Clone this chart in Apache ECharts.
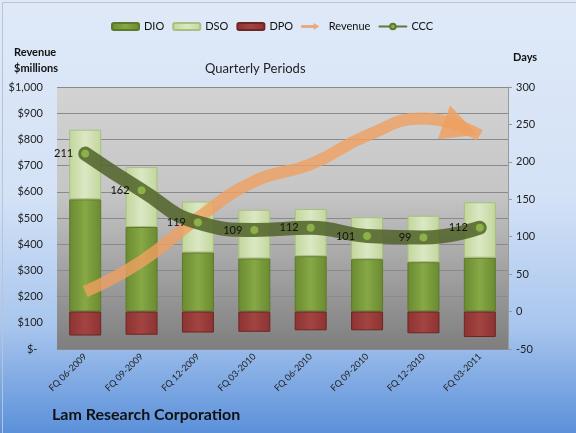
<!DOCTYPE html>
<html>
<head>
<meta charset="utf-8">
<script src="https://cdn.jsdelivr.net/npm/echarts@6/dist/echarts.min.js"></script>
<style>
html,body{margin:0;padding:0;}
#chart{width:576px;height:433px;}
</style>
</head>
<body>
<div id="chart"></div>
<script>
// periods and values (days for DIO/DSO/DPO/CCC, $ millions for revenue)
var periods = ["FQ 06-2009","FQ 09-2009","FQ 12-2009","FQ 03-2010","FQ 06-2010","FQ 09-2010","FQ 12-2010","FQ 03-2011"];
var dio = [150, 113, 79, 71, 74, 70, 66, 72];
var dso = [93, 80, 68, 65, 63, 56, 62, 74];
var dpo = [-32, -31, -28, -27, -25, -25, -29, -34];
var ccc = [211, 162, 119, 109, 112, 101, 99, 112];
var revenue = [219, 335, 500, 640, 705, 815, 880, 815];

var FONT = "Lato, 'Open Sans', sans-serif";

function barGrad(edge, mid){
	return {type:'linear',x:0,y:0,x2:1,y2:0,colorStops:[
		{offset:0,color:edge},{offset:0.5,color:mid},{offset:1,color:edge}]};
}

// last point carries the arrow head
var revData = revenue.map(function(v,i){
	if(i==revenue.length-1){
		return {value:v, symbol:'path://M0,0 L1,0.5 L0,1 Z', symbolKeepAspect:false,
			symbolSize:[36,36], symbolRotate:-20, symbolOffset:[-19,-7]};
	}
	return v;
});

var myChart = echarts.init(document.getElementById('chart'));
var option = {
	backgroundColor:{type:'linear',x:0,y:0,x2:0,y2:1,colorStops:[
		{offset:0,color:'#dfe9f8'},{offset:0.45,color:'#d4e2f6'},{offset:0.75,color:'#a9c6ee'},{offset:1,color:'#5b90da'}]},
	textStyle:{fontFamily:FONT},
	graphic:[
		{type:'rect',left:0,top:0,shape:{width:575,height:432},style:{fill:'none',stroke:'#b8c4d4',lineWidth:1}},
		{type:'text',left:14,top:44,style:{text:'Revenue\n$millions',font:'bold 11px '+FONT,fill:'#111',lineHeight:16}},
		{type:'text',left:513,top:52,style:{text:'Days',font:'bold 11px '+FONT,fill:'#111'}},
		{type:'text',left:205,top:62,style:{text:'Quarterly Periods',font:'13px '+FONT,fill:'#222'}},
		{type:'text',left:52,top:407,style:{text:'Lam Research Corporation',font:'bold 16px '+FONT,fill:'#111'}}
	],
	legend:{
		left:106, top:16, itemWidth:27, itemHeight:7, itemGap:8,
		textStyle:{fontSize:11,color:'#111',fontFamily:FONT},
		data:[
			{name:'DIO'},{name:'DSO'},{name:'DPO'},
			{name:'Revenue',icon:'path://M0,3 L18,3 L18,0 L26,5 L18,10 L18,7 L0,7 Z',itemStyle:{color:'#e8a070'}},
			{name:'CCC'}
		]
	},
	grid:{left:57,right:68,top:87,bottom:84,show:true,borderWidth:0,
		backgroundColor:{type:'linear',x:0,y:0,x2:0,y2:1,colorStops:[
			{offset:0,color:'#d3d3d3'},{offset:0.4,color:'#c6c6c6'},{offset:1,color:'#7e7e7e'}]}},
	xAxis:{
		type:'category', data:periods,
		axisLine:{show:false}, axisTick:{show:false},
		axisLabel:{rotate:45, fontSize:9, color:'#222', margin:6, fontFamily:FONT, interval:0}
	},
	yAxis:[
		{type:'value', min:0, max:1000, interval:100,
			axisLine:{show:false}, axisTick:{show:false},
			splitLine:{lineStyle:{color:'#8a8a8a',width:1}},
			axisLabel:{fontSize:11,color:'#222',margin:14,fontFamily:FONT,
				formatter:function(v){return v===0?'$-  ':'$'+v.toLocaleString('en-US');}}
		},
		{type:'value', min:-50, max:300, interval:50, position:'right',
			axisLine:{show:true,lineStyle:{color:'#9a9a9a'}},
			axisTick:{show:true,length:4,lineStyle:{color:'#9a9a9a'}},
			splitLine:{show:false},
			axisLabel:{fontSize:11,color:'#222',margin:8,fontFamily:FONT}
		}
	],
	series:[
		{name:'DIO', type:'bar', stack:'days', yAxisIndex:1, data:dio, barWidth:32,
			itemStyle:{color:barGrad('#6a8a30','#86a845'),borderColor:'#5d7a2a',borderWidth:1}},
		{name:'DSO', type:'bar', stack:'days', yAxisIndex:1, data:dso,
			itemStyle:{color:barGrad('#c2d69b','#dbe8c4'),borderColor:'#a9bf80',borderWidth:1}},
		{name:'DPO', type:'bar', stack:'days', yAxisIndex:1, data:dpo,
			itemStyle:{color:barGrad('#8c3331','#a24442'),borderColor:'#6e2624',borderWidth:1}},
		{name:'Revenue', type:'line', yAxisIndex:0, data:revData, smooth:0.5,
			symbol:'none', showSymbol:true, showAllSymbol:true, z:3,
			lineStyle:{color:'#f0a060',width:12,opacity:0.8,cap:'butt'},
			itemStyle:{color:'#eea060',opacity:0.85}},
		{name:'CCC', type:'line', yAxisIndex:1, data:ccc, smooth:0.5, z:4,
			symbol:'circle', symbolSize:9,
			lineStyle:{color:'#4f6228',width:14,opacity:0.85,cap:'round'},
			itemStyle:{color:'#8db04a',borderColor:'#5f7a2c',borderWidth:1},
			label:{show:true,position:'left',distance:7,fontSize:11,color:'#111',fontFamily:FONT}}
	]
};
myChart.setOption(option);
</script>
</body>
</html>
